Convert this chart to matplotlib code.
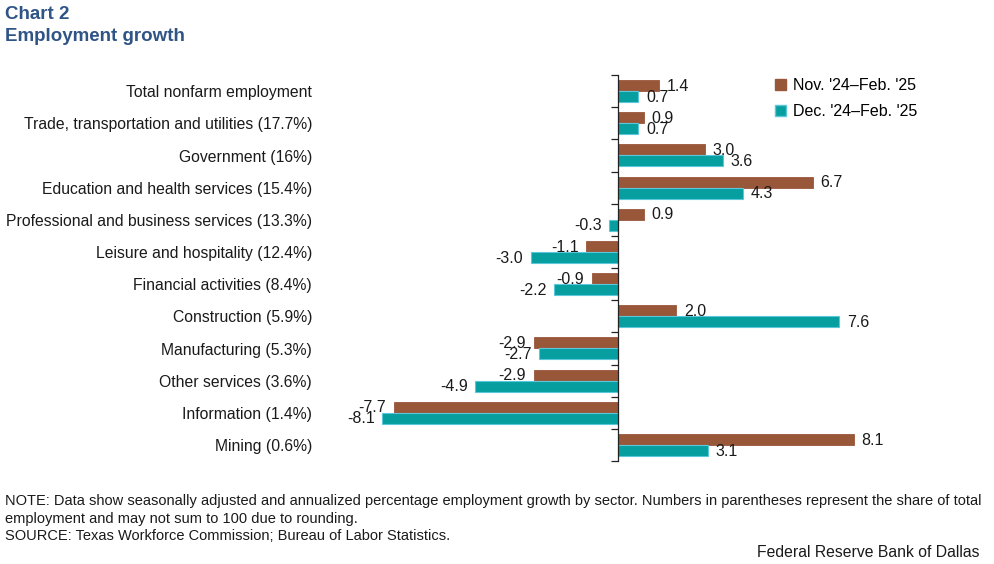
import matplotlib
matplotlib.use("Agg")
import matplotlib.pyplot as plt
import matplotlib.transforms as mtransforms
from matplotlib.patches import Patch
import numpy as np

plt.rcParams["font.family"] = ["Liberation Sans", "DejaVu Sans"]

sectors = [
    "Total nonfarm employment",
    "Trade, transportation and utilities (17.7%)",
    "Government (16%)",
    "Education and health services (15.4%)",
    "Professional and business services (13.3%)",
    "Leisure and hospitality (12.4%)",
    "Financial activities (8.4%)",
    "Construction (5.9%)",
    "Manufacturing (5.3%)",
    "Other services (3.6%)",
    "Information (1.4%)",
    "Mining (0.6%)",
]
nov_feb = [1.4, 0.9, 3.0, 6.7, 0.9, -1.1, -0.9, 2.0, -2.9, -2.9, -7.7, 8.1]
dec_feb = [0.7, 0.7, 3.6, 4.3, -0.3, -3.0, -2.2, 7.6, -2.7, -4.9, -8.1, 3.1]
series_labels = ["Nov. '24\u2013Feb. '25", "Dec. '24\u2013Feb. '25"]

BROWN = "#99573A"
TEAL = "#069E9E"
TEAL_EDGE = "#5CC6DA"
TITLE = "#2F5486"
TXT = "#1a1a1a"

W, H = 995, 564
fig = plt.figure(figsize=(W / 100, H / 100), dpi=100)
# 0 of the value axis sits at x=618 px, plot spans y 75..461 px
ax = fig.add_axes([356 / W, 1 - 461 / H, 524 / W, 386 / H])

y = np.arange(len(sectors))
h = 0.34
ax.barh(y - h / 2, nov_feb, height=h, color=BROWN, edgecolor=BROWN, linewidth=0.6)
ax.barh(y + h / 2, dec_feb, height=h, color=TEAL, edgecolor=TEAL_EDGE, linewidth=0.8)

ax.set_xlim(-9, 9)
ax.set_ylim(len(sectors) - 0.5, -0.5)

for sp in ["top", "right", "bottom"]:
    ax.spines[sp].set_visible(False)
ax.spines["left"].set_position(("data", 0))
ax.spines["left"].set_color("#222222")
ax.spines["left"].set_linewidth(0.9)
ax.set_xticks([])
ax.set_yticks(np.arange(len(sectors) + 1) - 0.5)
ax.set_yticklabels([])
ax.tick_params(axis="y", direction="out", length=5, width=0.9, color="#222222")

# sector names
trans = mtransforms.blended_transform_factory(fig.transFigure, ax.transData)
for i, name in enumerate(sectors):
    ax.text(312 / W, i + 0.05, name, transform=trans, ha="right", va="center",
            fontsize=11.3, color=TXT)

# value labels
off = 0.26
for vals, dy in ((nov_feb, -h / 2), (dec_feb, h / 2)):
    for i, v in enumerate(vals):
        if v >= 0:
            ax.text(v + off, i + dy + 0.02, f"{v:.1f}", ha="left", va="center",
                    fontsize=11.5, color=TXT)
        else:
            ax.text(v - off, i + dy + 0.02, f"{v:.1f}", ha="right", va="center",
                    fontsize=11.5, color=TXT)

handles = [Patch(facecolor=BROWN, edgecolor=BROWN),
           Patch(facecolor=TEAL, edgecolor=TEAL_EDGE)]
fig.legend(handles, series_labels, loc="upper left",
           bbox_to_anchor=(775 / W, 1 - 78 / H), frameon=False, fontsize=11.5,
           handlelength=0.7, handleheight=0.7, handletextpad=0.4,
           labelspacing=0.7, borderaxespad=0, borderpad=0)

fig.text(5 / W, 1 - 6 / H, "Chart 2", ha="left", va="top", fontsize=13.5,
         fontweight="bold", color=TITLE)
fig.text(5 / W, 1 - 28 / H, "Employment growth", ha="left", va="top",
         fontsize=13.5, fontweight="bold", color=TITLE)

note = ("NOTE: Data show seasonally adjusted and annualized percentage employment growth by sector. "
        "Numbers in parentheses represent the share of total\n"
        "employment and may not sum to 100 due to rounding.\n"
        "SOURCE: Texas Workforce Commission; Bureau of Labor Statistics.")
fig.text(5 / W, 1 - 494 / H, note, ha="left", va="top", fontsize=10.5,
         color=TXT, linespacing=1.32)
fig.text(980 / W, 1 - 545 / H, "Federal Reserve Bank of Dallas", ha="right",
         va="top", fontsize=11.3, color=TXT)

fig.savefig("out.png", dpi=100)
plt.close(fig)
